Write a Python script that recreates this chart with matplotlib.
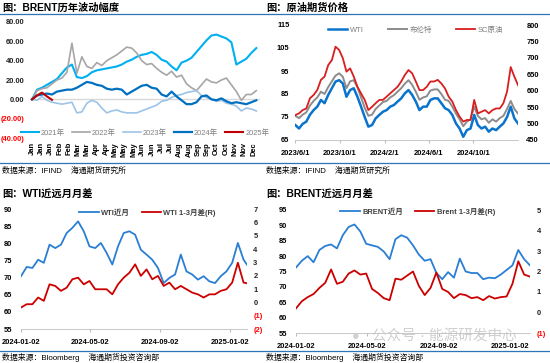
import numpy as np
import pandas as pd
import matplotlib
matplotlib.use("Agg")
import matplotlib.pyplot as plt
from matplotlib.lines import Line2D

# latin text in an Arial-like face, CJK falls back to Noto
plt.rcParams['font.family'] = ['Liberation Sans', 'Noto Sans CJK SC', 'DejaVu Sans']

# ---------------- data ----------------
# panel 1: Brent yearly change (%), sampled about every 5.4 trading days
month_labels = ['Jan', 'Jan', 'Jan', 'Feb', 'Feb', 'Mar', 'Mar', 'Apr', 'Apr', 'May', 'May', 'May',
                'Jun', 'Jun', 'Jul', 'Jul', 'Aug', 'Aug', 'Sep', 'Sep', 'Oct', 'Oct', 'Nov', 'Nov', 'Dec']
y2021 = [0, 10, 12, 15, 18, 21, 27, 33, 36, 23, 22, 24, 28, 30, 31, 32, 33, 34, 36, 39, 41, 44, 46,
         47, 49, 46, 41, 39, 34, 30, 38, 40, 43, 49, 55, 61, 66, 67, 65, 63, 59, 36, 39, 42, 48, 53]
y2022 = [0, 9, 11, 12, 16, 20, 22, 28, 58, 27, 44, 34, 32, 38, 35, 40, 43, 46, 50, 54, 53, 48, 40,
         36, 37, 32, 28, 25, 29, 23, 25, 16, 12, 9, 15, 21, 18, 17, 20, 22, 15, 8, -1, 5, 5, 9]
y2023 = [0, -1, 3, -1, -3, -4, -5, -4, -3, -14, -13, -4, -1, -3, -9, -14, -12, -11, -13, -14, -14,
         -14, -12, -10, -8, -6, -2, -1, 2, 4, 5, 7, 8, 9, 4, 2, 0, -2, -1, -4, -5, -7, -12, -9, -10, -12]
y2024 = [0, 4, 5, 6, 5, 8, 9, 10, 10, 12, 15, 18, 17, 15, 14, 11, 10, 11, 10, 5, 8, 11, 14, 15, 12,
         11, 5, 3, 8, 3, -1, -5, -5, -3, 3, 4, 0, -1, 1, -2, -4, -3, -4, -5, -3, -1]
y2025 = [0, 4, 7, 3, -0.5]

# panel 2: crude futures, every 10 days from 2023-06-01
wti = [71.5, 70, 72, 73, 76, 78, 79.5, 82.4, 81, 84.6, 87.5, 90.4, 91, 89.6, 83.8, 86.7, 87.5, 83.8,
       79.5, 75, 70.8, 71.5, 74.4, 75.9, 77.3, 78, 79.5, 80.2, 81.7, 83.1, 85.3, 86.7, 84.6, 81.7, 78,
       79.5, 79.5, 82.4, 83.1, 83.1, 81, 78.8, 78, 75.9, 72.2, 70, 66.4, 69.3, 70, 75.9, 71.5, 70, 70.8,
       68.6, 70, 69.3, 70.8, 72.2, 75, 79.5, 74.4, 72.2]
brent = [75.5, 74.5, 76, 77, 80, 82, 83.5, 86, 85, 88, 90.5, 93, 94, 92.5, 87.5, 90.5, 91, 88, 83.5,
         79, 75.5, 76, 78.5, 80, 81.5, 82, 83.5, 84.5, 86, 87.5, 89.5, 91, 89, 86, 82.5, 83.5, 84, 86.5,
         87, 87, 85, 82.5, 82, 79.5, 76.5, 74, 71, 73, 74, 79.5, 75.5, 74, 74.5, 72.5, 74, 73, 74.5,
         75.5, 78.5, 82, 78.5, 76.5]
sc = [526, 531, 541, 546, 577, 587, 602, 633, 643, 678, 693, 734, 724, 699, 658, 668, 643, 612, 592,
      572, 541, 551, 562, 572, 572, 582, 592, 602, 612, 628, 648, 663, 653, 628, 602, 602, 612, 628,
      628, 633, 622, 607, 582, 567, 541, 521, 506, 511, 511, 572, 531, 536, 541, 531, 541, 546, 546,
      562, 597, 672, 643, 617]
p2_ticks = ['2023-06-01', '2023-10-01', '2024-02-01', '2024-06-01', '2024-10-01']

# panel 3: WTI front month and 1-3 spread, every 10 days from 2024-01-02
wti_front = [70.4, 73.1, 72.8, 75.2, 74.3, 79.6, 78.6, 79.6, 83, 84.5, 86.4, 83.5, 79.1, 78.6, 80.1,
             77.2, 73.8, 79.1, 83, 83.5, 82.5, 78.1, 76.7, 75.2, 72.8, 68.4, 69.9, 70.9, 76.7, 71.8,
             70.9, 69.4, 70.4, 68.9, 68.4, 70.4, 71.8, 74.3, 80.1, 75.2, 72.8]
wti_spread = [-0.39, -0.14, -0.14, 0.36, 0.11, 1.35, 1.23, 0.86, 1.1, 1.73, 1.85, 1.35, 1.6, 0.98,
              0.98, 0.98, 0.6, 1.35, 1.85, 2.22, 2.85, 1.98, 2.47, 1.73, 1.98, 1.23, 1.48, 0.98, 1.23,
              0.98, 0.73, 0.6, 0.36, 0.6, 0.6, 0.86, 0.98, 1.48, 2.97, 1.48, 1.4]

# panel 4: Brent front month and 1-3 spread
brent_front = [76.3, 78.5, 80, 78, 82, 83.3, 83.8, 82.5, 86.8, 89.5, 90.3, 88, 84, 83.5, 83, 81.5, 79,
               85.5, 86.8, 86, 83.5, 80.5, 78.5, 79, 74.5, 72.5, 74.8, 73, 79.2, 75, 74.5, 74.5, 72.5,
               73, 72.8, 74, 75.5, 77, 82, 79, 77]
brent_spread = [0.2, 0.55, 0.75, 0.9, 1.2, 1.45, 2.1, 1.4, 1.5, 1.9, 2.05, 1.85, 1.9, 1.15, 0.95, 0.7,
                0.6, 1.65, 1.6, 1.8, 2.0, 1.3, 0.85, 1.2, 1.95, 1.15, 1.0, 0.7, 0.9, 0.85, 0.7, 0.75,
                0.6, 0.8, 0.68, 0.75, 0.78, 1.4, 2.5, 1.85, 1.75]
p34_ticks = ['2024-01-02', '2024-05-02', '2024-09-02', '2025-01-02']

# ---------------- figure ----------------
W, H = 550, 363
fig = plt.figure(figsize=(W / 100, H / 100), dpi=100)


def box(x0, y0, x1, y1):
    return [x0 / W, 1 - y1 / H, (x1 - x0) / W, (y1 - y0) / H]


def rule(y, x0=0, x1=W):
    fig.add_artist(Line2D([x0 / W, x1 / W], [1 - y / H, 1 - y / H], color='#2E75B6', lw=0.9))


def neg_fmt(v, dec=0):
    s = f"{abs(v):.{dec}f}"
    return f"({s})" if v < 0 else s


def style_ticks(labels, red_neg):
    for lab, v in zip(labels, red_neg):
        lab.set_color('#FF0000' if v < 0 else '#222222')


TICK_FS = 5.4
TITLE_FS = 7.4
SRC_FS = 5.7

# separators and texts
rule(14)
rule(163)
rule(351)
fig.text(2 / W, 1 - 8 / H, '图：BRENT历年波动幅度', fontsize=TITLE_FS, weight='bold', va='center')
fig.text(266 / W, 1 - 8 / H, '图：原油期货价格', fontsize=TITLE_FS, weight='bold', va='center')
fig.text(2 / W, 1 - 195 / H, '图：WTI近远月月差', fontsize=TITLE_FS, weight='bold', va='center')
fig.text(266 / W, 1 - 195 / H, '图：BRENT近远月月差', fontsize=TITLE_FS, weight='bold', va='center')
fig.text(2 / W, 1 - 171 / H, '数据来源：IFIND    海通期货研究所', fontsize=SRC_FS, va='center')
fig.text(266 / W, 1 - 171 / H, '数据来源：IFIND    海通期货研究所', fontsize=SRC_FS, va='center')
fig.text(2 / W, 1 - 357 / H, '数据来源：Bloomberg    海通期货投资咨询部', fontsize=SRC_FS, va='center')
fig.text(266 / W, 1 - 357 / H, '数据来源：Bloomberg    海通期货投资咨询部', fontsize=SRC_FS, va='center')

# ---------------- panel 1 ----------------
ax1 = fig.add_axes(box(30, 22, 260, 138))
step = 5.4
series1 = [(y2021, '2021年', '#00B0F0', 1.5), (y2022, '2022年', '#A6A6A6', 1.2),
           (y2023, '2023年', '#9DC3E6', 1.2), (y2024, '2024年', '#0070C0', 1.6),
           (y2025, '2025年', '#C00000', 1.5)]
ax1.axhline(0, color='#D9D9D9', lw=1.0, zorder=0)
for vals, name, col, lw in series1:
    ax1.plot(np.arange(len(vals)) * step, vals, color=col, lw=lw, label=name)
ax1.set_xlim(-2.2, 247)
ax1.set_ylim(-40, 80)
ax1.set_xticks(np.arange(len(month_labels)) * 10)
ax1.set_xticklabels(month_labels, rotation=90, fontsize=TICK_FS, weight='bold', va='top')
yt1 = [-40, -20, 0, 20, 40, 60, 80]
ax1.set_yticks(yt1)
ax1.set_yticklabels([neg_fmt(v, 2) for v in yt1], fontsize=TICK_FS, weight='bold')
style_ticks(ax1.get_yticklabels(), yt1)
ax1.tick_params(length=0)
ax1.tick_params(axis='y', pad=4)
ax1.tick_params(axis='x', pad=3)
for s in ax1.spines.values():
    s.set_visible(False)
ax1.patch.set_alpha(0)
leg1 = ax1.legend(loc='center', bbox_to_anchor=(0.5, 0.045), ncol=5, frameon=False,
                  fontsize=TICK_FS, handlelength=2.4, columnspacing=0.9, handletextpad=0.3)
for t in leg1.get_texts():
    t.set_color('#7F7F7F')

# ---------------- panel 2 ----------------
d2 = pd.date_range('2023-06-01', periods=len(wti), freq='10D')
ax2 = fig.add_axes(box(295, 25, 518, 140))
ax2r = ax2.twinx()
l1, = ax2.plot(d2, wti, color='#0A74CC', lw=1.8)
l2, = ax2.plot(d2, brent, color='#8C8C8C', lw=1.4)
l3, = ax2r.plot(d2, sc, color='#D81E1E', lw=1.3)
ax2.set_xlim(pd.Timestamp('2023-05-31'), pd.Timestamp('2025-01-31'))
ax2.set_ylim(65, 115)
ax2r.set_ylim(450, 800)
ax2.set_yticks(np.arange(65, 116, 10))
ax2r.set_yticks(np.arange(450, 801, 50))
tk2 = pd.to_datetime(p2_ticks)
ax2.set_xticks(tk2)
ax2.set_xticklabels([f"{d.year}/{d.month}/{d.day}" for d in tk2])
for a in (ax2, ax2r):
    for s in a.spines.values():
        s.set_visible(False)
    a.tick_params(labelsize=TICK_FS)
    for lab in a.get_xticklabels() + a.get_yticklabels():
        lab.set_fontweight('bold')
ax2.spines['bottom'].set_visible(True)
ax2.spines['bottom'].set_color('#BFBFBF')
ax2.spines['bottom'].set_linewidth(0.6)
ax2.tick_params(axis='y', length=0, pad=4)
ax2r.tick_params(axis='y', length=0, pad=6)
ax2.tick_params(axis='x', length=2, color='#BFBFBF', pad=5)
ax2r.legend([l1, l2, l3], ['WTI', '布伦特', 'SC原油'], loc='center', bbox_to_anchor=(0.54, 0.955),
            ncol=3, frameon=False, fontsize=TICK_FS, handlelength=2.6, columnspacing=3.2,
            handletextpad=0.3, labelcolor='#7F7F7F')

# ---------------- panel 3 & 4 ----------------
d34 = pd.date_range('2024-01-02', periods=len(wti_front), freq='10D')
tk34 = pd.to_datetime(p34_ticks)


def spread_panel(rect, xend, front, spread, ylim, rlim, names, legx, legy, lpad, rpad):
    ax = fig.add_axes(rect)
    axr = ax.twinx()
    a, = ax.plot(d34, front, color='#2A7FD4', lw=1.3)
    b, = axr.plot(d34, spread, color='#CC0000', lw=1.3)
    ax.set_xlim(pd.Timestamp('2024-01-02'), pd.Timestamp(xend))
    ax.set_ylim(*ylim)
    axr.set_ylim(*rlim)
    ax.set_yticks(np.arange(ylim[0], ylim[1] + 1, 5))
    rt = list(range(rlim[0], rlim[1] + 1))
    axr.set_yticks(rt)
    axr.set_yticklabels([neg_fmt(v) for v in rt])
    style_ticks(axr.get_yticklabels(), rt)
    ax.set_xticks(tk34)
    ax.set_xticklabels([d.strftime('%Y-%m-%d') for d in tk34])
    for a_ in (ax, axr):
        for s in a_.spines.values():
            s.set_visible(False)
        a_.tick_params(labelsize=TICK_FS)
        for lab in a_.get_xticklabels() + a_.get_yticklabels():
            lab.set_fontweight('bold')
    ax.spines['bottom'].set_visible(True)
    ax.spines['bottom'].set_color('#BFBFBF')
    ax.spines['bottom'].set_linewidth(0.6)
    ax.tick_params(axis='y', length=0, pad=lpad)
    axr.tick_params(axis='y', length=0, pad=rpad)
    ax.tick_params(axis='x', length=2, color='#BFBFBF', pad=5)
    leg = axr.legend([a, b], names, loc='center', bbox_to_anchor=(legx, legy), ncol=2,
                     frameon=False, fontsize=TICK_FS, handlelength=2.6, columnspacing=1.6,
                     handletextpad=0.3)
    for t in leg.get_texts():
        t.set_color('#404040')
        t.set_fontweight('bold')
    return ax


spread_panel(box(21, 209, 247, 329), '2025-02-01', wti_front, wti_spread, (55, 90), (-2, 7),
             ['WTI近月', 'WTI 1-3月差(R)'], 0.56, 0.967, 6.5, 4.5)
spread_panel(box(296, 210, 530, 333), '2025-02-05', brent_front, brent_spread, (55, 95), (-1, 5),
             ['BRENT近月', 'Brent 1-3月差(R)'], 0.52, 0.984, 6.5, 5)

# watermark
fig.text(356 / W, 1 - 337 / H, '●', fontsize=9, color='#D0D0D0', ha='center', va='center')
fig.text(372 / W, 1 - 337 / H, '公众号 · 能源研发中心', fontsize=10.5, color='#C8C8C8', alpha=0.85,
         va='center')

fig.savefig('out.png', dpi=100)
